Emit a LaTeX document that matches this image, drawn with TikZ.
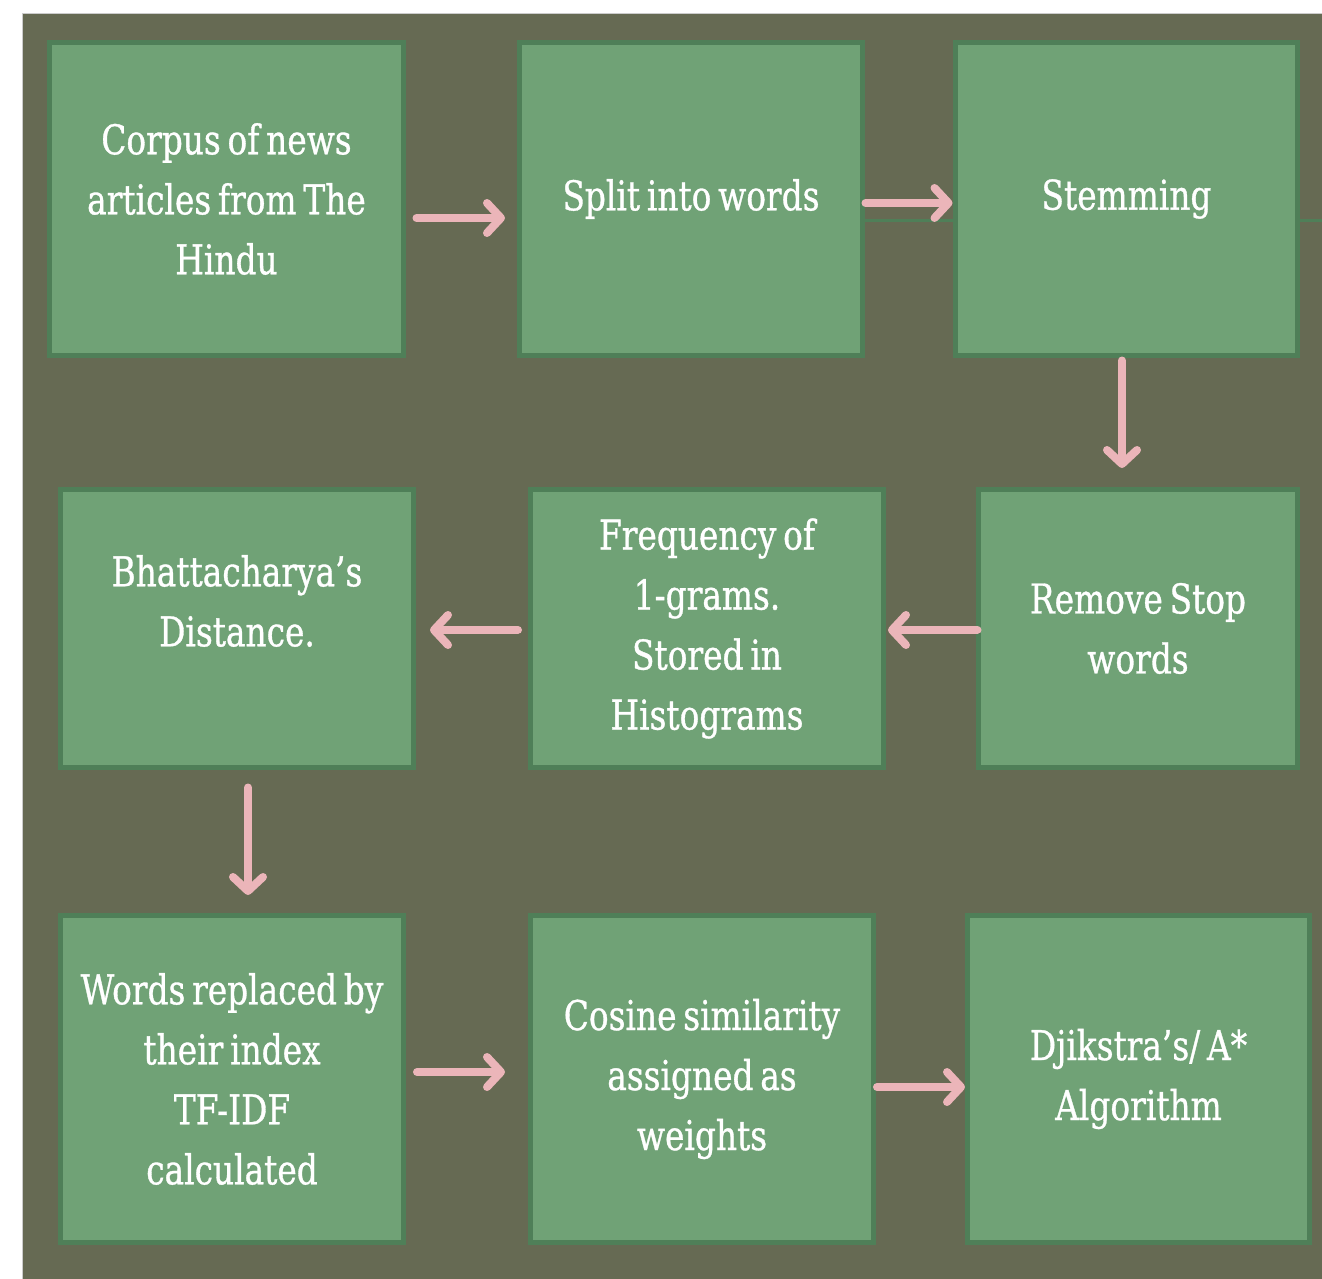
\documentclass[tikz,border=0pt]{standalone}
\usepackage{fontspec}
\setmainfont{DejaVu Serif}[FakeStretch=0.8,WordSpace=0.65,FakeBold=0.8]
\usetikzlibrary{arrows.meta}
\definecolor{bgolive}{HTML}{666A53}
\definecolor{boxfill}{HTML}{70A276}
\definecolor{boxline}{HTML}{4F7F58}
\definecolor{arrpink}{HTML}{EBB5B9}
\tikzset{
  boxtext/.style={text=white, align=center, font=\fontsize{41}{60}\selectfont,
    execute at begin node={\vspace*{10pt}}},
  stepbox/.style={boxtext, draw=boxline, fill=boxfill, line width=5pt, inner sep=0pt, outer sep=0pt},
  arr/.style={draw=arrpink, line width=8pt, line cap=round, line join=round,
    -{Straight Barb[length=14pt,width=30pt,line cap=round,line join=round]},
    preaction={draw=black, draw opacity=0.3, transform canvas={shift={(2pt,-3pt)}}}},
  thinlink/.style={draw=boxline, line width=3pt}
}
\begin{document}
\begin{tikzpicture}[x=1pt,y=-1pt]
\useasboundingbox (0,0) rectangle (1322,1279);
\fill[white] (0,0) rectangle (1322,1279);
\filldraw[fill=bgolive, draw=black!20, line width=1pt] (22,14) rectangle (1323,1280);
% row 1
\node[stepbox, minimum width=354pt, minimum height=313pt] (B1) at (226.5,199) {Corpus of news\\articles from The\\Hindu};
\node[stepbox, minimum width=343pt, minimum height=313pt] (B2) at (691,199) {Split into words};
\node[stepbox, minimum width=342pt, minimum height=313pt] (B3) at (1126.5,199) {Stemming};
% row 2
\node[stepbox, minimum width=353pt, minimum height=278pt] (B4) at (237,628.5) {};
\node[boxtext] (B4t) at (237,601) {Bhattacharya’s\\Distance.};
\node[stepbox, minimum width=353pt, minimum height=278pt] (B5) at (707,628.5) {Frequency of\\1-grams.\\Stored in\\Histograms};
\node[stepbox, minimum width=319pt, minimum height=278pt] (B6) at (1138,628.5) {Remove Stop\\words};
% row 3
\node[stepbox, minimum width=343pt, minimum height=327pt] (B7) at (232,1079) {Words replaced by\\their index\\TF-IDF\\calculated};
\node[stepbox, minimum width=343pt, minimum height=327pt] (B8) at (702,1079) {Cosine similarity\\assigned as\\weights};
\node[stepbox, minimum width=342pt, minimum height=327pt] (B9) at (1138.5,1079) {Djikstra’s/ A*\\Algorithm};
% thin links
\coordinate (edgeR) at (1322,220);
\draw[thinlink] ([yshift=-21pt]B2.east) -- ([yshift=-21pt]B3.west);
\draw[thinlink] ([yshift=-21pt]B3.east) -- (edgeR);
% arrows
\draw[arr] ([xshift=13pt,yshift=-19pt]B1.east) -- ([xshift=-14.5pt,yshift=-19pt]B2.west);
\draw[arr] ([xshift=3pt,yshift=-4pt]B2.east) -- ([xshift=-3pt,yshift=-4pt]B3.west);
\draw[arr] ([xshift=-4.5pt,yshift=-5pt]B3.south) -- ([xshift=-16pt,yshift=21.5pt]B6.north);
\draw[arr] ([xshift=-1pt,yshift=-1.5pt]B6.west) -- ([xshift=4.5pt,yshift=-1.5pt]B5.east);
\draw[arr] ([xshift=-12.5pt,yshift=-1.5pt]B5.west) -- ([xshift=16.5pt,yshift=-1.5pt]B4.east);
\draw[arr] ([xshift=11pt,yshift=-20pt]B4.south) -- ([xshift=16pt,yshift=20.5pt]B7.north);
\draw[arr] ([xshift=13.5pt,yshift=7pt]B7.east) -- ([xshift=-25.5pt,yshift=7pt]B8.west);
\draw[arr] ([xshift=3.5pt,yshift=-8pt]B8.east) -- ([xshift=-2.5pt,yshift=-8pt]B9.west);
\end{tikzpicture}
\end{document}
